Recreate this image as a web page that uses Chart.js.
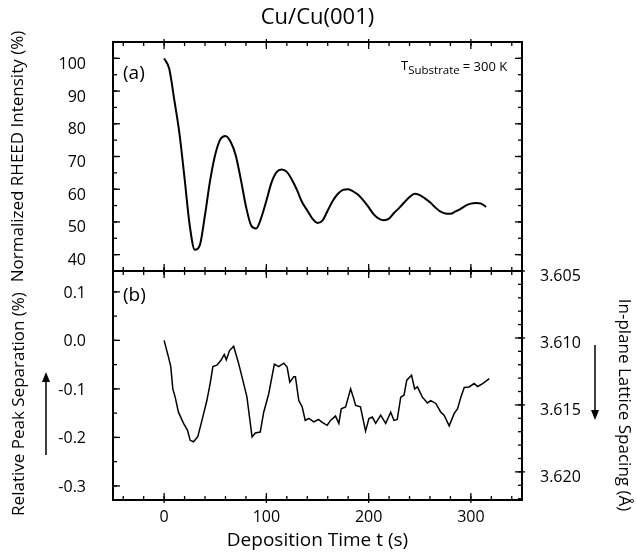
<!DOCTYPE html>
<html>
<head>
<meta charset="utf-8">
<script src="https://cdn.jsdelivr.net/npm/chart.js@4.4.0/dist/chart.umd.min.js"></script>
<style>
  body { margin: 0; background: #fff; }
  #wrap { position: relative; width: 637px; height: 555px; }
  canvas { position: absolute; left: 0; top: 0; }
</style>
</head>
<body>
<div id="wrap">
  <canvas id="chart-top" width="637" height="555"></canvas>
  <canvas id="chart-bottom" width="637" height="555"></canvas>
</div>
<script>
// panel (a): RHEED intensity
const topTime = [0, 5, 10, 15, 20, 25, 30, 35, 40, 45, 50, 55, 60, 65, 70, 75, 80, 85, 90, 95,
  100, 105, 110, 115, 120, 125, 130, 135, 140, 145, 150, 155, 160, 165, 170, 175, 180, 185, 190, 195,
  200, 205, 210, 215, 220, 225, 230, 235, 240, 245, 250, 255, 260, 265, 270, 275, 280, 285, 290, 295,
  300, 305, 310, 315];
const topIntensity = [100, 96.8, 87.2, 77, 63.3, 49, 41.5, 43, 52.2, 62.7, 70.6, 75.3, 76.3, 74.5, 70.4, 63, 54.8, 49, 48, 51.3,
  56.5, 62, 65.2, 66, 65.3, 62.9, 59.7, 56, 53.5, 51, 49.7, 50.5, 53.5, 56.5, 58.6, 59.8, 60, 59.3, 58.2, 56.5,
  54.5, 52.3, 51, 50.5, 51, 52.8, 54.3, 56, 57.6, 58.6, 58.2, 57.2, 56, 54.5, 53.2, 52.6, 52.5, 53.2, 54, 55,
  55.6, 55.8, 55.6, 54.6];

// panel (b): relative peak separation
const bottomTime = [0, 4.2, 6.5, 8.5, 10.8, 14, 19, 22.8, 25.5, 28.8, 33, 37, 41.8, 45, 47.7, 51.6, 55.6, 58.8, 60.8, 64,
  68, 72.9, 77.8, 81, 86, 89.2, 94, 97.4, 102.3, 107.8, 112, 117, 120.3, 122.9, 126.8, 128.4, 131.7, 135, 138, 141.5,
  146.4, 151, 154.6, 159.5, 162.7, 167.6, 170.9, 173.2, 177.5, 182.4, 185, 187.3, 192, 197, 200.3, 203.6, 206.9, 211.8, 216.7, 221.6,
  224.8, 228, 231.4, 234.6, 237.3, 242, 245, 247.7, 252.6, 257.5, 260.8, 265.7, 270.6, 273.8, 278.8, 283.6, 287, 290.2, 293.5, 298.3,
  303.2, 306.6, 311.5, 318];
const bottomSeparation = [0, -0.034, -0.054, -0.1, -0.117, -0.148, -0.171, -0.185, -0.206, -0.209, -0.198, -0.165, -0.124, -0.089, -0.054, -0.051, -0.041, -0.029, -0.04, -0.021,
  -0.012, -0.048, -0.089, -0.117, -0.199, -0.191, -0.189, -0.148, -0.11, -0.049, -0.054, -0.047, -0.055, -0.086, -0.075, -0.075, -0.124, -0.137, -0.165, -0.161,
  -0.168, -0.163, -0.169, -0.175, -0.165, -0.156, -0.171, -0.141, -0.137, -0.1, -0.117, -0.134, -0.137, -0.187, -0.161, -0.158, -0.171, -0.154, -0.171, -0.148,
  -0.165, -0.163, -0.117, -0.113, -0.082, -0.072, -0.1, -0.096, -0.117, -0.129, -0.124, -0.13, -0.148, -0.154, -0.176, -0.151, -0.141, -0.117, -0.097, -0.096,
  -0.089, -0.095, -0.089, -0.079];

const timeTicks = [0, 100, 200, 300];
const intensityTicks = [40, 50, 60, 70, 80, 90, 100];
const separationTicks = [-0.3, -0.2, -0.1, 0.0, 0.1];
const latticeTicks = [3.605, 3.610, 3.615, 3.620];

Chart.defaults.font.family = "'Open Sans', sans-serif";
Chart.defaults.color = "#000";

const setTicks = (values) => (scale) => {
  scale.ticks = values.map(v => ({ value: v }));
};

// inward tick marks on one side of the plot box
function tickMarks(ctx, area, scale, from, step, count, len, side, out) {
  out = out || 0;
  for (var i = 0; i <= count; i++) {
    var p = scale.getPixelForValue(from + i * step);
    ctx.beginPath();
    if (side === "left") { ctx.moveTo(area.left - out, p); ctx.lineTo(area.left + len, p); }
    if (side === "right") { ctx.moveTo(area.right + out, p); ctx.lineTo(area.right - len, p); }
    if (side === "top") { ctx.moveTo(p, area.top - out); ctx.lineTo(p, area.top + len); }
    if (side === "bottom") { ctx.moveTo(p, area.bottom + out); ctx.lineTo(p, area.bottom - len); }
    ctx.stroke();
  }
}

function timeTickMarks(ctx, area, x) {
  ctx.lineWidth = 1.3;
  tickMarks(ctx, area, x, -40, 20, 19, 4, "top");
  tickMarks(ctx, area, x, -40, 20, 19, 4, "bottom");
  tickMarks(ctx, area, x, 0, 100, 3, 7, "top", 3);
  tickMarks(ctx, area, x, 0, 100, 3, 7, "bottom", 3);
}

function verticalText(ctx, text, x, y, angle, font) {
  ctx.save();
  ctx.translate(x, y);
  ctx.rotate(angle);
  ctx.font = font;
  ctx.textAlign = "center";
  ctx.textBaseline = "middle";
  ctx.fillText(text, 0, 0);
  ctx.restore();
}

function arrow(ctx, x, y0, y1) {
  var dir = y1 > y0 ? 1 : -1;
  ctx.lineWidth = 1.5;
  ctx.beginPath();
  ctx.moveTo(x, y0);
  ctx.lineTo(x, y1 - dir * 8);
  ctx.stroke();
  ctx.beginPath();
  ctx.moveTo(x, y1);
  ctx.lineTo(x - 4, y1 - dir * 10);
  ctx.lineTo(x + 4, y1 - dir * 10);
  ctx.closePath();
  ctx.fill();
}

const topFrame = {
  id: "topFrame",
  afterDraw(chart) {
    var ctx = chart.ctx, a = chart.chartArea;
    var x = chart.scales.x, y = chart.scales.y;
    ctx.save();
    ctx.strokeStyle = "#000";
    ctx.fillStyle = "#000";
    ctx.lineWidth = 2;
    ctx.strokeRect(a.left, a.top, a.right - a.left, a.bottom - a.top);
    timeTickMarks(ctx, a, x);
    tickMarks(ctx, a, y, 35, 5, 14, 4, "left");
    tickMarks(ctx, a, y, 35, 5, 14, 4, "right");
    tickMarks(ctx, a, y, 40, 10, 6, 7, "left");
    tickMarks(ctx, a, y, 40, 10, 6, 7, "right");

    verticalText(ctx, "Normalized RHEED Intensity (%)", 18, (a.top + a.bottom) / 2, -Math.PI / 2, "17px 'Open Sans'");

    ctx.font = "19px 'Open Sans'";
    ctx.textBaseline = "middle";
    ctx.fillText("(a)", 123, 74);

    // T_Substrate = 300 K
    var tx = 401;
    ctx.font = "13px 'Open Sans'";
    ctx.textBaseline = "alphabetic";
    ctx.fillText("T", tx, 70);
    tx += ctx.measureText("T").width;
    ctx.font = "11.5px 'Open Sans'";
    ctx.fillText("Substrate", tx, 74);
    tx += ctx.measureText("Substrate").width + 3;
    ctx.font = "13px 'Open Sans'";
    ctx.fillText("= 300 K", tx, 71);
    ctx.restore();
  }
};

const bottomFrame = {
  id: "bottomFrame",
  afterDraw(chart) {
    var ctx = chart.ctx, a = chart.chartArea;
    var x = chart.scales.x, y = chart.scales.y, y2 = chart.scales.y2;
    ctx.save();
    ctx.strokeStyle = "#000";
    ctx.fillStyle = "#000";
    ctx.lineWidth = 2;
    ctx.strokeRect(a.left, a.top, a.right - a.left, a.bottom - a.top);
    timeTickMarks(ctx, a, x);
    tickMarks(ctx, a, y, -0.3, 0.05, 8, 4, "left");
    tickMarks(ctx, a, y, -0.3, 0.1, 4, 7, "left");
    tickMarks(ctx, a, y2, 3.605, 0.001, 17, 4, "right");
    tickMarks(ctx, a, y2, 3.605, 0.005, 3, 7, "right", 3);

    verticalText(ctx, "Relative Peak Separation (%)", 19, 404, -Math.PI / 2, "17px 'Open Sans'");
    verticalText(ctx, "In-plane Lattice Spacing (\u00C5)", 624, 405, Math.PI / 2, "17px 'Open Sans'");
    arrow(ctx, 46, 455, 372);
    arrow(ctx, 595, 345, 420);

    ctx.font = "19px 'Open Sans'";
    ctx.textBaseline = "middle";
    ctx.fillText("(b)", 123, 296);
    ctx.restore();
  }
};

new Chart(document.getElementById("chart-top").getContext("2d"), {
  type: "line",
  data: {
    datasets: [{
      data: topTime.map((t, i) => ({ x: t, y: topIntensity[i] })),
      borderColor: "#000",
      borderWidth: 2,
      pointRadius: 0,
      cubicInterpolationMode: "monotone",
      fill: false
    }]
  },
  options: {
    responsive: false,
    animation: false,
    events: [],
    layout: { padding: { top: 0, left: 0, right: 115, bottom: 284 } },
    plugins: {
      legend: { display: false },
      tooltip: { enabled: false },
      title: {
        display: true,
        text: "Cu/Cu(001)",
        fullSize: false,
        color: "#000",
        font: { size: 22, weight: "normal" },
        padding: { top: 5, bottom: 10.6 }
      }
    },
    scales: {
      x: { type: "linear", min: -50, max: 350, display: false },
      y: {
        min: 35,
        max: 105,
        afterBuildTicks: setTicks(intensityTicks),
        afterFit: (s) => { s.width = 113; },
        grid: { display: false },
        border: { display: false },
        ticks: { padding: 19, labelOffset: 6, font: { size: 16 } }
      }
    }
  },
  plugins: [topFrame]
});

new Chart(document.getElementById("chart-bottom").getContext("2d"), {
  type: "line",
  data: {
    datasets: [{
      data: bottomTime.map((t, i) => ({ x: t, y: bottomSeparation[i] })),
      borderColor: "#000",
      borderWidth: 1.5,
      pointRadius: 0,
      tension: 0,
      fill: false
    }]
  },
  options: {
    responsive: false,
    animation: false,
    events: [],
    layout: { padding: { top: 271, left: 0, right: 0, bottom: 0 } },
    plugins: { legend: { display: false }, tooltip: { enabled: false } },
    scales: {
      x: {
        type: "linear",
        min: -50,
        max: 350,
        afterBuildTicks: setTicks(timeTicks),
        afterFit: (s) => { s.height = 55; },
        grid: { display: false },
        border: { display: false },
        ticks: { padding: 0, maxRotation: 0, font: { size: 16 } },
        title: {
          display: true,
          text: "Deposition Time t (s)",
          font: { size: 19 },
          padding: { top: 0, bottom: 2.6 }
        }
      },
      y: {
        position: "left",
        min: -0.329,
        max: 0.143,
        afterBuildTicks: setTicks(separationTicks),
        afterFit: (s) => { s.width = 113; },
        grid: { display: false },
        border: { display: false },
        ticks: { padding: 19, labelOffset: 1.5, font: { size: 16 }, callback: (v) => v.toFixed(1) }
      },
      y2: {
        position: "right",
        reverse: true,
        min: 3.605,
        max: 3.6221,
        afterBuildTicks: setTicks(latticeTicks),
        afterFit: (s) => { s.width = 115; },
        grid: { display: false },
        border: { display: false },
        ticks: { padding: 10, labelOffset: 5.5, font: { size: 16 }, callback: (v) => v.toFixed(3) }
      }
    }
  },
  plugins: [bottomFrame]
});
</script>
</body>
</html>
